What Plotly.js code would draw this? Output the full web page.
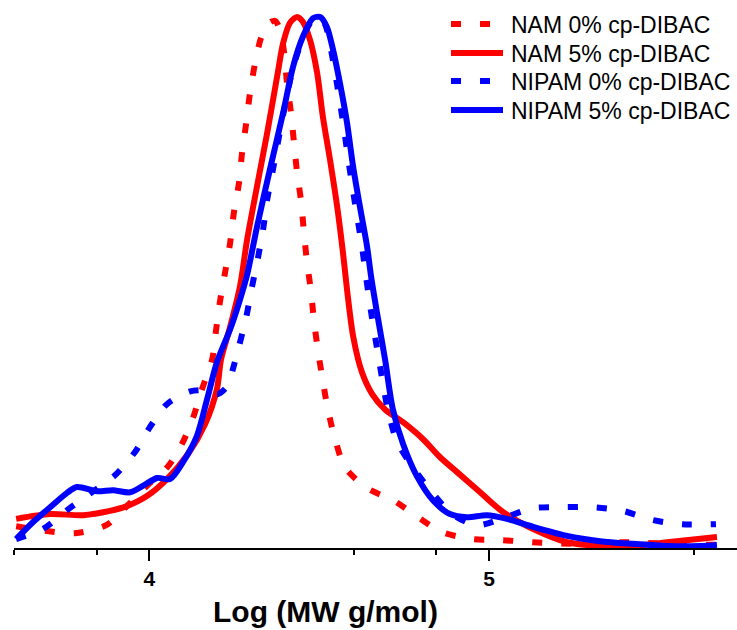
<!DOCTYPE html>
<html>
<head>
<meta charset="utf-8">
<script src="https://cdn.plot.ly/plotly-3.0.1.min.js"></script>
<style>
  html, body { margin: 0; padding: 0; background: #ffffff; }
  #chart { width: 737px; height: 630px; }
</style>
</head>
<body>
<div id="chart"></div>
<script>
// GPC traces, normalised detector response vs log molecular weight
const seriesNames = ["NAM 0% cp-DIBAC", "NAM 5% cp-DIBAC", "NIPAM 0% cp-DIBAC", "NIPAM 5% cp-DIBAC"];

const nam0X = [3.608, 3.699, 3.781, 3.873, 3.934, 3.996, 4.055, 4.096, 4.129, 4.155, 4.185, 4.196, 4.208, 4.223,
  4.238, 4.249, 4.264, 4.273, 4.285, 4.296, 4.311, 4.329, 4.349, 4.370, 4.385, 4.397, 4.405, 4.417, 4.426, 4.435,
  4.447, 4.455, 4.464, 4.476, 4.485, 4.497, 4.511, 4.526, 4.547, 4.576, 4.641, 4.723, 4.791, 4.862, 4.950, 5.038,
  5.127, 5.268, 5.392, 5.533, 5.674];
const nam0Y = [0.039, 0.030, 0.026, 0.041, 0.077, 0.117, 0.152, 0.194, 0.244, 0.297, 0.353, 0.406, 0.462, 0.517,
  0.573, 0.630, 0.686, 0.742, 0.797, 0.853, 0.910, 0.959, 0.985, 0.991, 0.974, 0.930, 0.876, 0.818, 0.761, 0.705,
  0.650, 0.594, 0.538, 0.481, 0.425, 0.368, 0.312, 0.258, 0.203, 0.150, 0.111, 0.086, 0.056, 0.028, 0.015, 0.013,
  0.009, 0.006, 0.009, 0.006, 0.004];

const nam5X = [3.608, 3.708, 3.805, 3.884, 3.934, 3.993, 4.052, 4.114, 4.164, 4.199, 4.211, 4.238, 4.267, 4.288,
  4.317, 4.347, 4.376, 4.394, 4.414, 4.435, 4.452, 4.473, 4.494, 4.511, 4.532, 4.553, 4.570, 4.582, 4.600, 4.626,
  4.656, 4.694, 4.747, 4.806, 4.856, 4.906, 4.974, 5.041, 5.130, 5.230, 5.327, 5.424, 5.524, 5.671];
const nam5Y = [0.053, 0.062, 0.060, 0.068, 0.077, 0.096, 0.128, 0.175, 0.231, 0.297, 0.353, 0.415, 0.491, 0.579,
  0.679, 0.780, 0.885, 0.949, 0.987, 0.998, 0.989, 0.955, 0.893, 0.810, 0.729, 0.641, 0.555, 0.485, 0.397, 0.329,
  0.288, 0.259, 0.235, 0.203, 0.169, 0.141, 0.103, 0.066, 0.034, 0.009, 0.002, 0.002, 0.009, 0.019];

const nipam0X = [3.608, 3.687, 3.761, 3.831, 3.899, 3.958, 4.002, 4.052, 4.120, 4.164, 4.202, 4.232, 4.246, 4.264,
  4.285, 4.302, 4.320, 4.335, 4.347, 4.364, 4.394, 4.423, 4.452, 4.479, 4.497, 4.517, 4.535, 4.553, 4.570, 4.588,
  4.606, 4.626, 4.638, 4.653, 4.676, 4.703, 4.729, 4.776, 4.832, 4.891, 4.965, 5.056, 5.130, 5.218, 5.306, 5.394,
  5.480, 5.568, 5.668];
const nipam0Y = [0.015, 0.034, 0.071, 0.103, 0.135, 0.179, 0.226, 0.269, 0.293, 0.295, 0.288, 0.305, 0.335, 0.378,
  0.432, 0.489, 0.545, 0.598, 0.654, 0.711, 0.814, 0.902, 0.959, 0.992, 0.998, 0.985, 0.936, 0.870, 0.801, 0.720,
  0.645, 0.566, 0.509, 0.442, 0.353, 0.256, 0.199, 0.150, 0.103, 0.062, 0.041, 0.058, 0.073, 0.075, 0.075, 0.068,
  0.051, 0.043, 0.043];

const nipam5X = [3.608, 3.658, 3.708, 3.758, 3.787, 3.846, 3.893, 3.943, 3.981, 4.023, 4.061, 4.099, 4.140, 4.170,
  4.199, 4.238, 4.267, 4.288, 4.317, 4.355, 4.394, 4.423, 4.452, 4.482, 4.503, 4.523, 4.541, 4.561, 4.582, 4.600,
  4.620, 4.641, 4.653, 4.670, 4.694, 4.717, 4.747, 4.788, 4.835, 4.885, 4.935, 4.994, 5.053, 5.130, 5.230, 5.327,
  5.424, 5.524, 5.621, 5.671];
const nipam5Y = [0.015, 0.047, 0.075, 0.102, 0.113, 0.105, 0.107, 0.103, 0.115, 0.130, 0.128, 0.160, 0.209, 0.278,
  0.348, 0.410, 0.466, 0.513, 0.603, 0.711, 0.818, 0.904, 0.961, 0.996, 0.998, 0.979, 0.936, 0.874, 0.799, 0.716,
  0.641, 0.566, 0.509, 0.442, 0.353, 0.259, 0.194, 0.133, 0.088, 0.062, 0.056, 0.060, 0.053, 0.038, 0.021, 0.011,
  0.006, 0.002, 0.002, 0.004];

// axis ticks: labelled decades plus the minor marks at 4x and 7x
const majorTicks = [4, 5];
const majorLabels = ["4", "5"];
const minorTicks = [3.6021, 3.8451, 4.6021, 4.8451, 5.6021];

const RED = "#ff0000";
const BLUE = "#0000ff";
const DOTS = "10px,19px";
const seriesColors = [RED, RED, BLUE, BLUE];
const seriesDashes = [DOTS, "solid", DOTS, "solid"];

function curve(i, x, y) {
  return {
    type: "scatter", mode: "lines", name: seriesNames[i], x: x, y: y,
    line: { color: seriesColors[i], width: 6, dash: seriesDashes[i], shape: "spline", smoothing: 0.8 },
    hoverinfo: "skip", showlegend: false
  };
}

const data = [
  curve(0, nam0X, nam0Y),
  curve(1, nam5X, nam5Y),
  curve(2, nipam0X, nipam0Y),
  curve(3, nipam5X, nipam5Y)
];

// plot area geometry (pixels) used to place the key in paper units
const W = 737, H = 630, M = { l: 14, r: 0, t: 10, b: 82 };
const plotW = W - M.l - M.r, plotH = H - M.t - M.b;
const px2x = p => (p - M.l) / plotW;
const px2y = p => (H - M.b - p) / plotH;

// key: a short stroke in each series' style with its name beside it
const keyRows = [24, 53, 81, 110];
const keyShapes = seriesNames.map((n, i) => ({
  type: "line", xref: "paper", yref: "paper",
  x0: px2x(451), x1: px2x(503), y0: px2y(keyRows[i]), y1: px2y(keyRows[i]),
  line: { color: seriesColors[i], width: 6, dash: seriesDashes[i] }
}));
const keyLabels = seriesNames.map((n, i) => ({
  text: n, xref: "paper", yref: "paper",
  x: px2x(509), y: px2y(keyRows[i] + 1), xanchor: "left", yanchor: "middle",
  showarrow: false, font: { size: 23, color: "#000000" }
}));

const layout = {
  width: W, height: H,
  margin: { l: M.l, r: M.r, t: M.t, b: M.b, pad: 0 },
  paper_bgcolor: "#ffffff", plot_bgcolor: "#ffffff",
  font: { family: "Arial, 'Liberation Sans', sans-serif", color: "#000000" },
  showlegend: false,
  xaxis: {
    range: [3.6017, 5.730],
    showline: true, linecolor: "#000000", linewidth: 2,
    showgrid: false, zeroline: false,
    tickmode: "array", tickvals: majorTicks, ticktext: majorLabels,
    ticks: "outside", ticklen: 11, tickwidth: 2, tickcolor: "#000000",
    tickfont: { family: "Arial, 'Liberation Sans', sans-serif", size: 21, color: "#000000", weight: 700 },
    minor: {
      tickmode: "array", tickvals: minorTicks,
      ticks: "outside", ticklen: 5, tickwidth: 2, tickcolor: "#000000", showgrid: false
    }
  },
  yaxis: {
    range: [-0.00188, 1.0113],
    visible: false, showgrid: false, zeroline: false
  },
  shapes: keyShapes,
  annotations: keyLabels.concat([{
    text: "<b>Log (MW g/mol)</b>",
    xref: "paper", yref: "paper", x: px2x(325), y: px2y(611),
    xanchor: "center", yanchor: "middle", showarrow: false,
    font: { size: 30, color: "#000000" }
  }])
};

Plotly.newPlot("chart", data, layout, { displayModeBar: false, staticPlot: true });
</script>
</body>
</html>
